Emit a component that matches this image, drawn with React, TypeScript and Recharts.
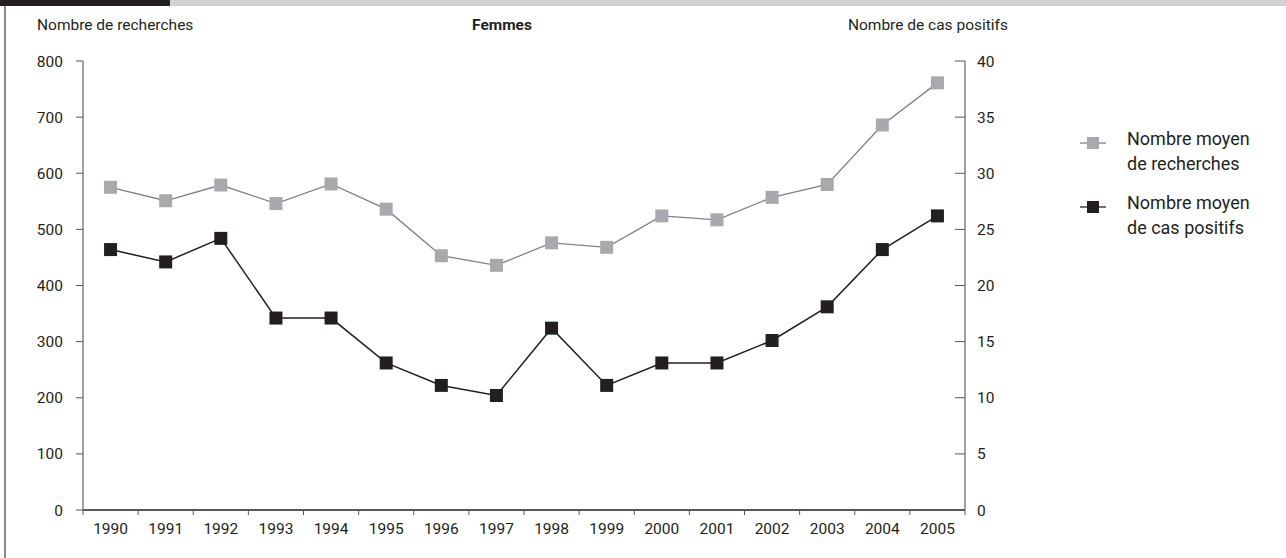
import React from 'react';
import { ComposedChart, Line, XAxis, YAxis } from 'recharts';

const years = ['1990', '1991', '1992', '1993', '1994', '1995', '1996', '1997', '1998', '1999', '2000', '2001', '2002', '2003', '2004', '2005'];
const recherches = [575, 551, 579, 546, 581, 536, 453, 436, 476, 468, 524, 517, 557, 580, 686, 761];
const casPositifs = [23.2, 22.1, 24.2, 17.1, 17.1, 13.1, 11.1, 10.2, 16.2, 11.1, 13.1, 13.1, 15.1, 18.1, 23.2, 26.2];
const leftTicks = [0, 100, 200, 300, 400, 500, 600, 700, 800];
const rightTicks = [0, 5, 10, 15, 20, 25, 30, 35, 40];
const xTicks = years.map((_, i) => i).concat([years.length]);

const data = years.map((y, i) => ({ x: i + 0.5, year: y, recherches: recherches[i], cas: casPositifs[i] }));

const W = 1286;
const H = 558;
const PLOT_LEFT = 83;
const PLOT_RIGHT = 965;
const PLOT_TOP = 61;
const PLOT_BOTTOM = 510;
const BAND = (PLOT_RIGHT - PLOT_LEFT) / years.length;
const FONT = 'Roboto, sans-serif';
const FS = 15.5;
const TEXT = '#231f20';
const GRAY = '#a7a9ac';
const BLACK = '#231f20';

const Square = (color: string) => (props: any) => {
  const { cx, cy } = props;
  if (cx == null || cy == null) return null;
  return <rect x={cx - 6.5} y={cy - 6.5} width={13} height={13} fill={color} />;
};

const XTick = (props: any) => {
  const { x, y, payload } = props;
  const v = payload.value;
  if (v >= years.length) return null;
  return (
    <text x={x + BAND / 2} y={y} dy="0.71em" textAnchor="middle" fontFamily={FONT} fontSize={FS} fill={TEXT}>
      {years[v]}
    </text>
  );
};

const RightTick = (props: any) => {
  const { x, y, payload } = props;
  return (
    <g>
      <line x1={x - 10} x2={x} y1={y} y2={y} stroke="#555" strokeWidth={1} />
      <text x={x + 12} y={y} dy="0.355em" textAnchor="start" fontFamily={FONT} fontSize={FS} fill={TEXT}>
        {payload.value}
      </text>
    </g>
  );
};

const LegendItem = ({ color, lines, top }: { color: string; lines: string[]; top: number }) => (
  <div style={{ position: 'absolute', left: 1080, top, height: 50 }}>
    <svg width={26} height={14} style={{ position: 'absolute', left: 0, top: 8 }}>
      <line x1={0} x2={26} y1={7} y2={7} stroke={color === GRAY ? '#808080' : BLACK} strokeWidth={1.3} />
      <rect x={7} y={1} width={12} height={12} fill={color} />
    </svg>
    <div style={{ position: 'absolute', left: 47, top: -2, fontFamily: FONT, fontSize: 18, lineHeight: '25px', color: TEXT, whiteSpace: 'nowrap' }}>
      {lines[0]}
      <br />
      {lines[1]}
    </div>
  </div>
);

export default function App() {
  return (
    <div style={{ position: 'absolute', left: 0, top: 0, width: W, height: H, background: '#fff', overflow: 'hidden' }}>
      <div style={{ position: 'absolute', left: 0, top: 0, width: 170, height: 6, background: '#231f20' }} />
      <div style={{ position: 'absolute', left: 170, top: 0, width: W - 170, height: 6, background: '#d1d2d4' }} />
      <div style={{ position: 'absolute', left: 4, top: 6, width: 2, height: H - 6, background: '#8a8a8a' }} />
      <div style={{ position: 'absolute', left: 37, top: 16, fontFamily: FONT, fontSize: FS, color: TEXT, whiteSpace: 'nowrap' }}>Nombre de recherches</div>
      <div style={{ position: 'absolute', left: 460, width: 84, textAlign: 'center', top: 16, fontFamily: FONT, fontSize: FS, fontWeight: 700, color: TEXT }}>Femmes</div>
      <div style={{ position: 'absolute', right: W - 1008, top: 16, fontFamily: FONT, fontSize: FS, color: TEXT, whiteSpace: 'nowrap' }}>Nombre de cas positifs</div>
      <div style={{ position: 'absolute', left: 0, top: 0 }}>
        <ComposedChart
          width={W}
          height={H}
          data={data}
          margin={{ top: PLOT_TOP, left: PLOT_LEFT - 60, right: W - PLOT_RIGHT - 60, bottom: H - PLOT_BOTTOM - 30 }}
        >
          <XAxis
            dataKey="x"
            type="number"
            domain={[0, years.length]}
            ticks={xTicks}
            interval={0}
            height={30}
            axisLine={{ stroke: '#231f20', strokeWidth: 1.3 }}
            tickLine={{ stroke: '#555', strokeWidth: 1 }}
            tickSize={5}
            tickMargin={8}
            tick={<XTick />}
          />
          <YAxis
            yAxisId="left"
            orientation="left"
            width={60}
            domain={[0, 800]}
            ticks={leftTicks}
            interval={0}
            axisLine={{ stroke: '#6d6e70', strokeWidth: 1.3 }}
            tickLine={{ stroke: '#555', strokeWidth: 1 }}
            tickSize={7}
            tickMargin={13}
            tick={{ fontFamily: FONT, fontSize: FS, fill: TEXT }}
          />
          <YAxis
            yAxisId="right"
            orientation="right"
            width={60}
            domain={[0, 40]}
            ticks={rightTicks}
            interval={0}
            axisLine={{ stroke: '#6d6e70', strokeWidth: 1.3 }}
            tickLine={false}
            tickSize={0}
            tickMargin={0}
            tick={<RightTick />}
          />
          <Line
            yAxisId="left"
            dataKey="recherches"
            stroke="#808080"
            strokeWidth={1.3}
            dot={Square(GRAY)}
            activeDot={false}
            isAnimationActive={false}
          />
          <Line
            yAxisId="right"
            dataKey="cas"
            stroke={BLACK}
            strokeWidth={1.5}
            dot={Square(BLACK)}
            activeDot={false}
            isAnimationActive={false}
          />
        </ComposedChart>
      </div>
      <LegendItem color={GRAY} lines={['Nombre moyen', 'de recherches']} top={128} />
      <LegendItem color={BLACK} lines={['Nombre moyen', 'de cas positifs']} top={192} />
    </div>
  );
}
